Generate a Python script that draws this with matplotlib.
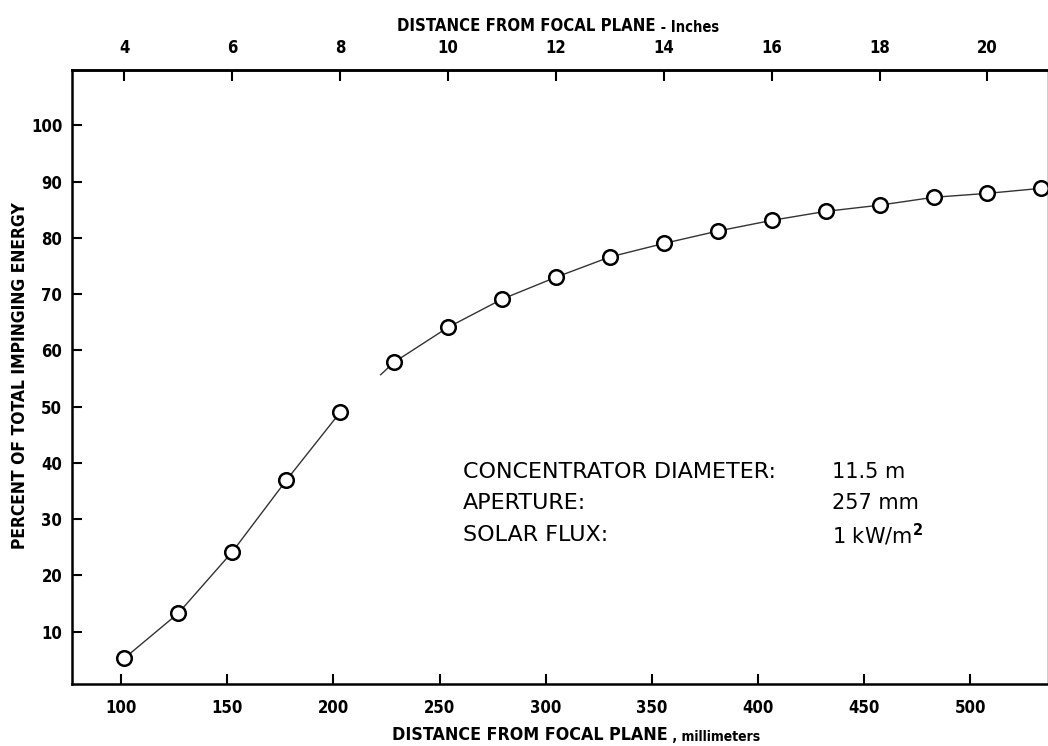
import numpy as np
import matplotlib.pyplot as plt

#DATA

#distance from focal plane (inches) and percent of total impinging energy
inches = [4, 5, 6, 7, 8, 9, 10, 11, 12, 13, 14, 15, 16, 17, 18, 19, 20, 21]
percent = [5.3, 13.3, 24.2, 36.9, 49.0, 57.9, 64.1, 69.1, 73.0, 76.6, 79.0,
           81.2, 83.1, 84.7, 85.8, 87.2, 87.9, 88.8]

mm_ticks = [100, 150, 200, 250, 300, 350, 400, 450, 500]
inch_ticks = [4, 6, 8, 10, 12, 14, 16, 18, 20]
pct_ticks = [10, 20, 30, 40, 50, 60, 70, 80, 90, 100]

spec_names = ['CONCENTRATOR DIAMETER:', 'APERTURE:', 'SOLAR FLUX:']
spec_values = ['11.5 m', '257 mm', r'1 kW/m$^{\mathbf{2}}$']

#STYLE

cond = dict(family='DejaVu Sans', stretch='condensed', weight='bold')
plt.rcParams['mathtext.fontset'] = 'dejavusans'

mm = np.array(inches) * 25.4
pct = np.array(percent)

#PLOTTING

fig = plt.figure(figsize=(10.48, 7.46), dpi=100)
ax = fig.add_axes([0.0687, 0.083, 0.9313, 0.823])

#curve is broken between 8 and 9 inches in the original
ax.plot(mm[:5], pct[:5], color='#333333', lw=1.0, zorder=2)
ax.plot(mm[5:], pct[5:], color='#333333', lw=1.0, zorder=2)
frac = 0.25
ax.plot([mm[5], mm[5] + frac * (mm[4] - mm[5])],
        [pct[5], pct[5] + frac * (pct[4] - pct[5])],
        color='#333333', lw=1.0, zorder=2)
ax.plot(mm, pct, ls='none', marker='o', ms=10.5, mfc='white', mec='black',
        mew=1.8, zorder=3, clip_on=False)

ax.set_xlim(76.9, 536.5)
ax.set_ylim(0.7, 109.8)

ax.set_xticks(mm_ticks)
ax.set_yticks(pct_ticks)
ax.tick_params(direction='in', length=7, width=1.5, labelsize=12)
for lab in ax.get_xticklabels() + ax.get_yticklabels():
    lab.set(**cond)
ax.tick_params(axis='x', pad=11)
ax.tick_params(axis='y', pad=7)

for side in ['left', 'bottom', 'top']:
    ax.spines[side].set_linewidth(1.8)
ax.spines['right'].set_linewidth(1.0)

#top axis in inches
sec = ax.secondary_xaxis('top', functions=(lambda x: x / 25.4, lambda x: x * 25.4))
sec.set_xticks(inch_ticks)
sec.tick_params(direction='in', length=8, width=1.5, labelsize=12, pad=9.5)
for lab in sec.get_xticklabels():
    lab.set(**cond)
sec.spines['top'].set_linewidth(1.8)

#axis labels
xl = ax.set_xlabel('DISTANCE FROM FOCAL PLANE', fontsize=12.8, ha='left', va='top', **cond)
ax.xaxis.set_label_coords(0.328, -0.068)
ax.annotate(' , millimeters', xy=(1, 0), xycoords=xl, fontsize=10, va='bottom',
            ha='left', annotation_clip=False, **cond)

tl = ax.text(0.333, 1.057, 'DISTANCE FROM FOCAL PLANE', transform=ax.transAxes,
             fontsize=12, ha='left', va='bottom', **cond)
ax.annotate(' - Inches', xy=(1, 0), xycoords=tl, fontsize=10.5, va='bottom',
            ha='left', annotation_clip=False, **cond)

ax.set_ylabel('PERCENT OF TOTAL IMPINGING ENERGY', fontsize=12.5, **cond)
ax.yaxis.set_label_coords(-0.044, 0.503)

#specification block
for i, (name, val) in enumerate(zip(spec_names, spec_values)):
    y = 38.4 - i * 5.6
    ax.text(260.9, y, name, family='DejaVu Sans', fontsize=16, va='center')
    ax.text(434.6, y, val, family='DejaVu Sans', fontsize=15, va='center')

fig.savefig('out.png', dpi=100)
plt.close()
